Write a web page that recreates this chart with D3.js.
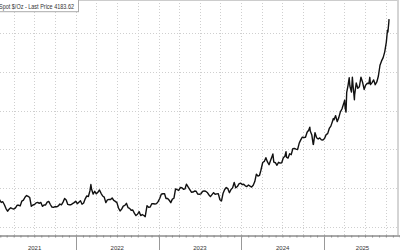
<!DOCTYPE html>
<html><head><meta charset="utf-8">
<script src="https://cdn.jsdelivr.net/npm/d3@7"></script>
<style>html,body{margin:0;padding:0;background:#fff;overflow:hidden}svg{display:block}</style>
</head><body>
<svg id="c" width="400" height="250"></svg>
<script>
const title = "Spot $/Oz - Last Price 4183.62";
const yTicks = [1500, 2000, 2500, 3000, 3500, 4000];
const yearLabels = ["2021", "2022", "2023", "2024", "2025"];
const dates = [
"2021-01-22","2021-01-29","2021-02-05","2021-02-12","2021-02-19","2021-02-26","2021-03-05","2021-03-12","2021-03-19","2021-03-26",
"2021-04-01","2021-04-09","2021-04-16","2021-04-23","2021-04-30","2021-05-07","2021-05-14","2021-05-21","2021-05-28","2021-06-04",
"2021-06-11","2021-06-18","2021-06-25","2021-07-02","2021-07-09","2021-07-16","2021-07-23","2021-07-30","2021-08-06","2021-08-13",
"2021-08-20","2021-08-27","2021-09-03","2021-09-10","2021-09-17","2021-09-24","2021-10-01","2021-10-08","2021-10-15","2021-10-22",
"2021-10-29","2021-11-05","2021-11-12","2021-11-19","2021-11-26","2021-12-03","2021-12-10","2021-12-17","2021-12-24","2021-12-31",
"2022-01-07","2022-01-14","2022-01-21","2022-01-28","2022-02-04","2022-02-11","2022-02-18","2022-02-25","2022-03-04","2022-03-08",
"2022-03-11","2022-03-18","2022-03-25","2022-04-01","2022-04-08","2022-04-15","2022-04-22","2022-04-29","2022-05-06","2022-05-13",
"2022-05-20","2022-05-27","2022-06-03","2022-06-10","2022-06-17","2022-06-24","2022-07-01","2022-07-08","2022-07-15","2022-07-22",
"2022-07-29","2022-08-05","2022-08-12","2022-08-19","2022-08-26","2022-09-02","2022-09-09","2022-09-16","2022-09-23","2022-09-30",
"2022-10-07","2022-10-14","2022-10-21","2022-10-28","2022-11-03","2022-11-11","2022-11-18","2022-11-25","2022-12-02","2022-12-09",
"2022-12-16","2022-12-23","2022-12-30",
"2023-01-06","2023-01-13","2023-01-20","2023-01-27","2023-02-03","2023-02-10","2023-02-17","2023-02-24","2023-03-03","2023-03-10",
"2023-03-17","2023-03-24","2023-03-31","2023-04-07","2023-04-14","2023-04-21","2023-04-28","2023-05-04","2023-05-12","2023-05-19",
"2023-05-26","2023-06-02","2023-06-09","2023-06-16","2023-06-23","2023-06-30","2023-07-07","2023-07-14","2023-07-21","2023-07-28",
"2023-08-04","2023-08-11","2023-08-18","2023-08-25","2023-09-01","2023-09-08","2023-09-15","2023-09-22","2023-09-29","2023-10-06",
"2023-10-13","2023-10-20","2023-10-27","2023-11-03","2023-11-10","2023-11-17","2023-11-24","2023-12-01","2023-12-08","2023-12-15",
"2023-12-22","2023-12-29",
"2024-01-05","2024-01-12","2024-01-19","2024-01-26","2024-02-02","2024-02-09","2024-02-16","2024-02-23","2024-03-01","2024-03-08",
"2024-03-15","2024-03-22","2024-03-28","2024-04-05","2024-04-12","2024-04-19","2024-04-26","2024-05-03","2024-05-10","2024-05-17",
"2024-05-20","2024-05-24","2024-05-31","2024-06-07","2024-06-14","2024-06-21","2024-06-28","2024-07-05","2024-07-12","2024-07-17",
"2024-07-19","2024-07-26","2024-08-02","2024-08-09","2024-08-16","2024-08-23","2024-08-30","2024-09-06","2024-09-13","2024-09-20",
"2024-09-27","2024-10-04","2024-10-11","2024-10-18","2024-10-25","2024-10-30","2024-11-01","2024-11-08","2024-11-14","2024-11-15",
"2024-11-22","2024-11-29","2024-12-06","2024-12-13","2024-12-20","2024-12-27",
"2025-01-03","2025-01-10","2025-01-17","2025-01-24","2025-01-31","2025-02-07","2025-02-11","2025-02-14","2025-02-21","2025-02-28",
"2025-03-07","2025-03-14","2025-03-21","2025-03-28","2025-04-02","2025-04-04","2025-04-08","2025-04-11","2025-04-17","2025-04-22",
"2025-04-25","2025-05-02","2025-05-06","2025-05-09","2025-05-15","2025-05-16","2025-05-23","2025-05-30","2025-06-06","2025-06-13",
"2025-06-20","2025-06-27","2025-07-03","2025-07-11","2025-07-18","2025-07-22","2025-07-25","2025-08-01","2025-08-08","2025-08-15",
"2025-08-22","2025-08-29","2025-09-05","2025-09-12","2025-09-19","2025-09-26","2025-10-03","2025-10-08","2025-10-10","2025-10-14",
"2025-10-15"
];
const prices = [
1855,1848,1813,1823,1784,1734,1700,1727,1745,1733,
1728,1744,1777,1777,1769,1831,1844,1881,1903,1891,
1877,1764,1781,1787,1808,1815,1802,1814,1763,1780,
1781,1817,1827,1787,1754,1750,1761,1757,1768,1793,
1783,1818,1865,1846,1788,1783,1783,1798,1811,1829,
1797,1817,1835,1791,1807,1860,1898,1890,1966,2045,
1988,1921,1958,1925,1945,1975,1932,1897,1883,1811,
1846,1853,1851,1871,1840,1827,1811,1742,1703,1727,
1766,1775,1802,1747,1737,1712,1716,1675,1644,1661,
1695,1644,1657,1645,1630,1771,1751,1755,1797,1797,
1793,1798,1824,
1865,1920,1926,1928,1865,1865,1842,1811,1856,1868,
1989,1978,1969,2007,2004,1983,1990,2050,2011,1978,
1946,1948,1961,1958,1921,1919,1925,1955,1962,1959,
1943,1913,1889,1915,1940,1919,1924,1925,1849,1833,
1933,1981,2006,1992,1940,1981,2002,2072,2004,2019,
2053,2063,
2045,2049,2029,2018,2039,2024,2013,2035,2083,2179,
2155,2165,2230,2330,2344,2392,2337,2301,2360,2415,
2440,2334,2327,2294,2333,2322,2327,2392,2411,2469,
2400,2387,2443,2431,2508,2512,2503,2497,2578,2622,
2658,2653,2657,2721,2747,2787,2736,2685,2565,2563,
2715,2650,2633,2648,2622,2621,
2640,2690,2703,2770,2800,2861,2898,2882,2936,2858,
2910,2984,3022,3085,3134,3037,2982,3237,3327,3425,
3319,3241,3431,3325,3141,3204,3357,3289,3310,3433,
3368,3274,3327,3355,3350,3431,3337,3363,3398,3336,
3371,3448,3587,3643,3685,3760,3886,4040,4017,4142,
4183.62
];

const parse = d3.timeParse("%Y-%m-%d");
const data = dates.map((d, i) => ({date: parse(d), value: prices[i]}));

const svg = d3.select("#c");
const W = 400, H = 250;
const plotRight = 397.5, axisY = 235;

const x = d3.scaleTime()
  .domain([new Date(2021, 0, 1), new Date(2026, 0, 1)])
  .range([-6.7, 406.7]);
const y = d3.scaleLinear().domain([1500, 4000]).range([226.7, 33.3]);

svg.append("rect").attr("width", W).attr("height", H).attr("fill", "#fff");

svg.append("clipPath").attr("id", "clip")
  .append("rect").attr("x", 0).attr("y", 0).attr("width", plotRight).attr("height", axisY);

const grid = svg.append("g").attr("clip-path", "url(#clip)");
const quarters = d3.timeMonth.every(3).range(new Date(2021, 0, 1), new Date(2026, 0, 2));
grid.selectAll("line.v").data(quarters).join("line")
  .attr("x1", d => Math.round(x(d)) + 0.5).attr("x2", d => Math.round(x(d)) + 0.5)
  .attr("y1", 0).attr("y2", axisY)
  .attr("stroke", "#cfcfcf").attr("stroke-width", 1).attr("stroke-dasharray", "1,2");
grid.selectAll("line.h").data(yTicks).join("line")
  .attr("x1", 0).attr("x2", plotRight)
  .attr("y1", d => Math.round(y(d)) + 0.5).attr("y2", d => Math.round(y(d)) + 0.5)
  .attr("stroke", "#cfcfcf").attr("stroke-width", 1).attr("stroke-dasharray", "1,2");

const line = d3.line().x(d => x(d.date)).y(d => y(d.value)).curve(d3.curveLinear);
svg.append("g").attr("clip-path", "url(#clip)")
  .append("path").datum(data).attr("d", line)
  .attr("fill", "none").attr("stroke", "#111").attr("stroke-width", 1.4)
  .attr("stroke-linejoin", "round");

svg.append("line").attr("x1", plotRight + 0.5).attr("x2", plotRight + 0.5)
  .attr("y1", 0).attr("y2", axisY).attr("stroke", "#aaa");
svg.append("line").attr("x1", 0).attr("x2", plotRight).attr("y1", 0.5).attr("y2", 0.5).attr("stroke", "#ccc");

const xAxis = d3.axisBottom(x)
  .ticks(d3.timeMonth.every(1))
  .tickSize(2).tickFormat("");
const ax = svg.append("g").attr("transform", `translate(0,${axisY + 0.5})`).call(xAxis);
ax.select(".domain").attr("stroke", "#555");
ax.selectAll(".tick line").attr("stroke", "#888");

const years = d3.timeYear.range(new Date(2022, 0, 1), new Date(2026, 0, 1));
svg.selectAll("line.sep").data(years).join("line")
  .attr("x1", d => Math.round(x(d)) + 0.5).attr("x2", d => Math.round(x(d)) + 0.5)
  .attr("y1", axisY).attr("y2", H).attr("stroke", "#999");

svg.selectAll("text.yr").data(yearLabels).join("text")
  .attr("x", d => {
    const a = x(new Date(+d, 0, 1)), b = Math.min(x(new Date(+d + 1, 0, 1)), 401);
    return (a + b) / 2;
  })
  .attr("y", 249.5)
  .attr("text-anchor", "middle")
  .attr("font-family", "Liberation Sans, Arial, sans-serif")
  .attr("font-size", 6).attr("fill", "#333")
  .text(d => d);

const lg = svg.append("g");
lg.append("rect").attr("x", -2).attr("y", -2).attr("width", 80.5).attr("height", 13.7)
  .attr("fill", "#fff").attr("stroke", "#aaa").attr("stroke-width", 1);
lg.append("text").attr("x", -1).attr("y", 9)
  .attr("font-family", "Liberation Sans, Arial, sans-serif")
  .attr("font-size", 7).attr("fill", "#333")
  .attr("textLength", 75).attr("lengthAdjust", "spacingAndGlyphs")
  .text(title);
</script>
</body></html>
